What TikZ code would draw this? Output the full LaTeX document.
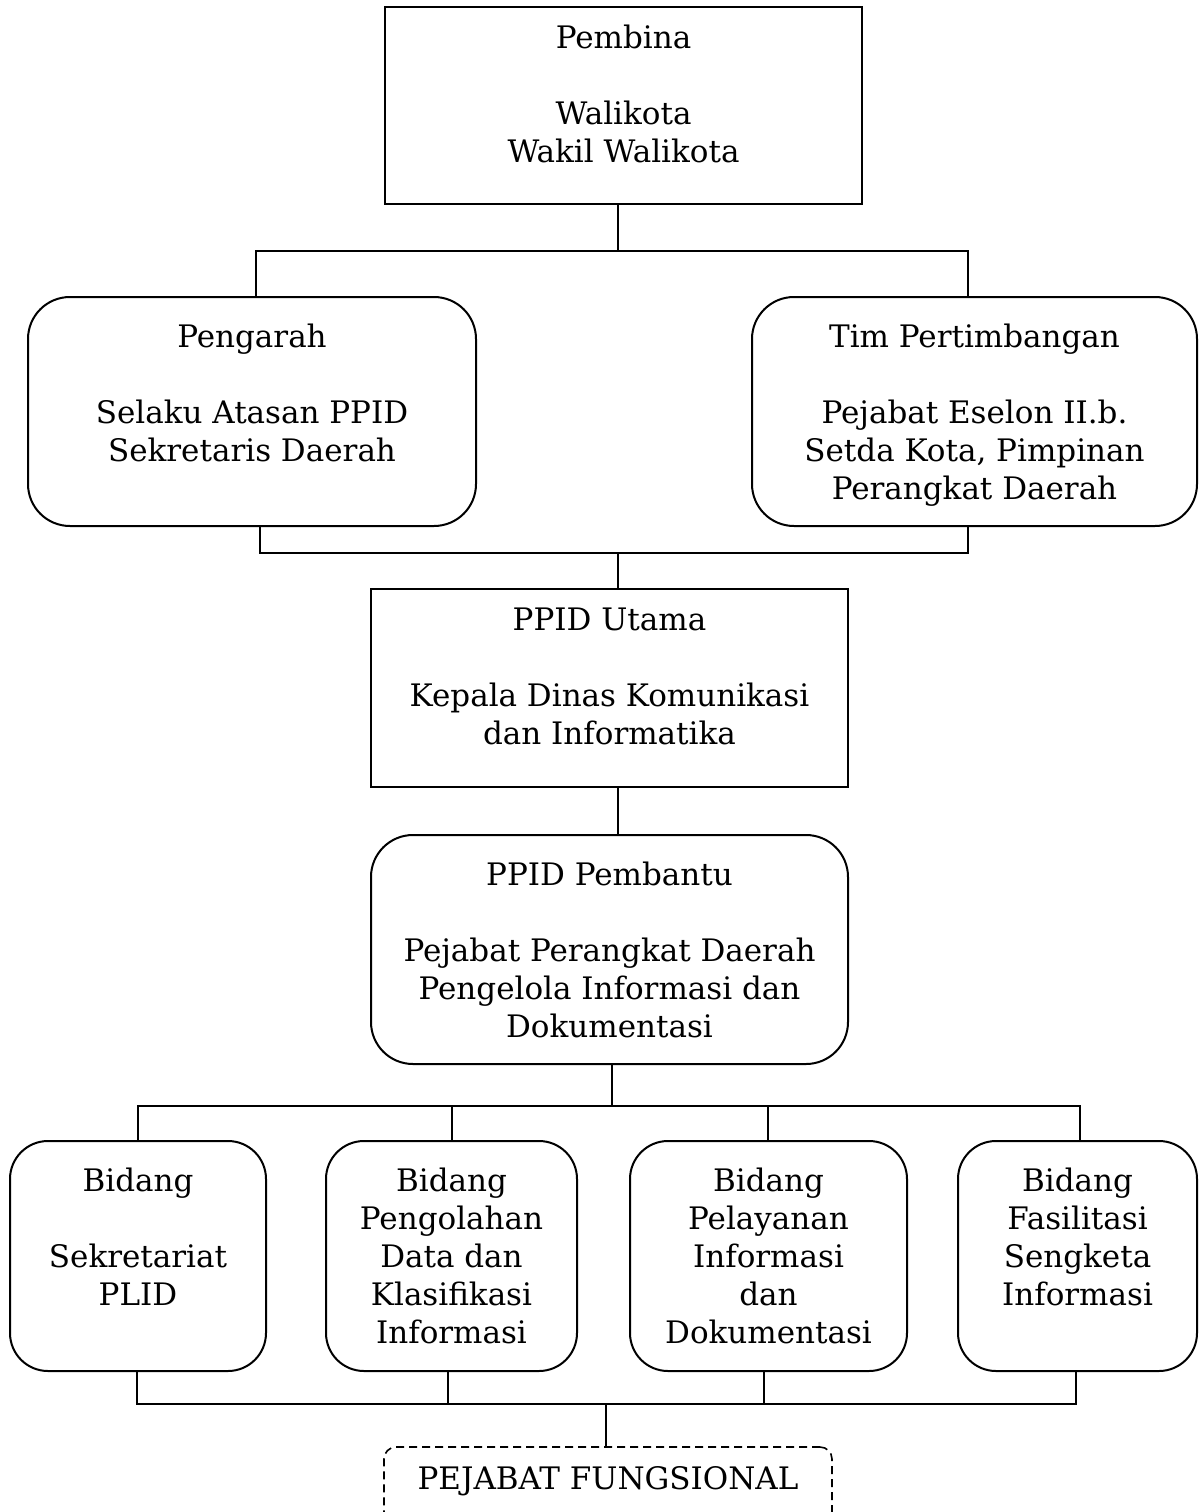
\documentclass[tikz,border=0pt]{standalone}
\usepackage{fontspec}
\setmainfont{DejaVu Serif}
\begin{document}
\begin{tikzpicture}[x=1pt,y=-1pt,
  sq/.style={draw, line width=2pt, rectangle, inner sep=0pt},
  rnd/.style={sq, rounded corners=42pt},
  bid/.style={sq, rounded corners=38pt},
  dsh/.style={draw, line width=1.6pt, rectangle, inner sep=0pt, rounded corners=12pt, dash pattern=on 8pt off 5pt},
  txt/.style={align=center, inner sep=0pt, font=\fontsize{31}{38}\selectfont, anchor=north},
  ln/.style={line width=2pt}]
\useasboundingbox (0,0) rectangle (1199,1512);

% boxes
\node[sq,  minimum width=477pt, minimum height=197pt] (pembina)  at (623.5,105.5) {};
\node[rnd, minimum width=448pt, minimum height=229pt] (pengarah) at (252,411.5) {};
\node[rnd, minimum width=445pt, minimum height=229pt] (tim)      at (974.5,411.5) {};
\node[sq,  minimum width=477pt, minimum height=198pt] (utama)    at (609.5,688) {};
\node[rnd, minimum width=477pt, minimum height=229pt] (pembantu) at (609.5,949.5) {};
\node[bid, minimum width=256pt, minimum height=230pt] (b1) at (138,1256) {};
\node[bid, minimum width=251pt, minimum height=230pt] (b2) at (451.5,1256) {};
\node[bid, minimum width=277pt, minimum height=230pt] (b3) at (768.5,1256) {};
\node[bid, minimum width=239pt, minimum height=230pt] (b4) at (1077.5,1256) {};
\node[dsh, minimum width=448pt, minimum height=93pt] (fung) at (608,1493.5) {};

% texts
\node[txt] (pembinaT)  at ([yshift=-15.4pt]pembina.north) {\strut Pembina\\[38pt]Walikota\\Wakil Walikota};
\node[txt] (pengarahT) at ([yshift=-24.4pt]pengarah.north) {\strut Pengarah\\[38pt]Selaku Atasan PPID\\Sekretaris Daerah};
\node[txt] (timT)      at ([yshift=-24.4pt]tim.north) {\strut Tim Pertimbangan\\[38pt]Pejabat Eselon II.b.\\Setda Kota, Pimpinan\\Perangkat Daerah};
\node[txt] (utamaT)    at ([yshift=-15.4pt]utama.north) {\strut PPID Utama\\[38pt]Kepala Dinas Komunikasi\\dan Informatika};
\node[txt] (pembantuT) at ([yshift=-24.4pt]pembantu.north) {\strut PPID Pembantu\\[38pt]Pejabat Perangkat Daerah\\Pengelola Informasi dan\\Dokumentasi};
\node[txt] (b1T) at ([yshift=-24.4pt]b1.north) {\strut Bidang\\[38pt]Sekretariat\\PLID};
\node[txt] (b2T) at ([yshift=-24.4pt]b2.north) {\strut Bidang\\Pengolahan\\Data dan\\Klasifikasi\\Informasi};
\node[txt] (b3T) at ([yshift=-24.4pt]b3.north) {\strut Bidang\\Pelayanan\\Informasi\\dan\\Dokumentasi};
\node[txt] (b4T) at ([yshift=-24.4pt]b4.north) {\strut Bidang\\Fasilitasi\\Sengketa\\Informasi};
\node[txt] (fungT) at ([yshift=-16.4pt]fung.north) {\strut PEJABAT FUNGSIONAL};

% junction coordinates
\coordinate (t1)  at (618,251);
\coordinate (t1L) at (256,251);
\coordinate (t1R) at (968,251);
\coordinate (m1)  at (618,553);
\coordinate (mL)  at (260,553);
\coordinate (mR)  at (968,553);
\coordinate (c1)  at (612,1106);
\coordinate (cA)  at (138,1106);
\coordinate (cB)  at (452,1106);
\coordinate (cC)  at (768,1106);
\coordinate (cD)  at (1080,1106);
\coordinate (d1)  at (606,1404);
\coordinate (dA)  at (137,1404);
\coordinate (dB)  at (448,1404);
\coordinate (dC)  at (764,1404);
\coordinate (dD)  at (1076,1404);

% connectors
\draw[ln] (pembina.south -| t1) -- (t1);
\draw[ln] (pengarah.north -| t1L) -- (t1L) -- (t1R) -- (tim.north -| t1R);
\draw[ln] (pengarah.south -| mL) -- (mL) -- (mR) -- (tim.south -| mR);
\draw[ln] (m1) -- (utama.north -| m1);
\draw[ln] (utama.south -| m1) -- (pembantu.north -| m1);
\draw[ln] (pembantu.south -| c1) -- (c1);
\draw[ln] (b1.north -| cA) -- (cA) -- (cD) -- (b4.north -| cD);
\draw[ln] (cB) -- (b2.north -| cB);
\draw[ln] (cC) -- (b3.north -| cC);
\draw[ln] (b1.south -| dA) -- (dA) -- (dD) -- (b4.south -| dD);
\draw[ln] (b2.south -| dB) -- (dB);
\draw[ln] (b3.south -| dC) -- (dC);
\draw[ln] (d1) -- (fung.north -| d1);
\end{tikzpicture}
\end{document}
